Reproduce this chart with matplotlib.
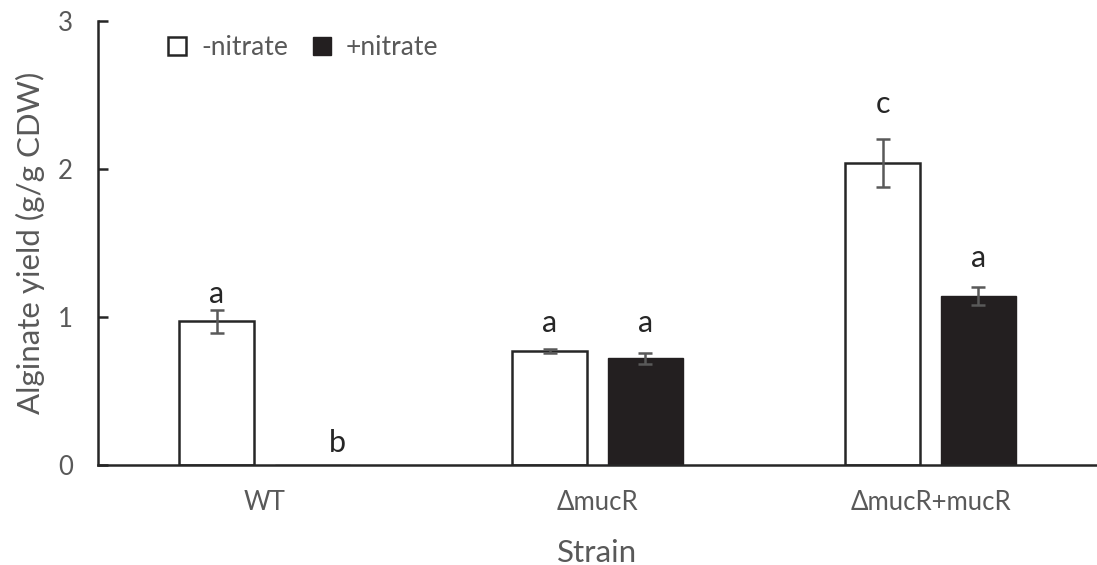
import matplotlib.pyplot as plt
import numpy as np
from matplotlib.patches import Patch

# Alginate yield per strain, with and without nitrate
strains = ["WT", "\u0394mucR", "\u0394mucR+mucR"]
yield_minus = [0.97, 0.772, 2.043]
err_minus = [0.075, 0.012, 0.162]
yield_plus = [0.0, 0.72, 1.142]
err_plus = [0.0, 0.04, 0.06]

# significance letters and their baseline heights
letters_minus = ["a", "a", "c"]
letter_y_minus = [1.095, 0.899, 2.378]
letters_plus = ["b", "a", "a"]
letter_y_plus = [0.088, 0.899, 1.338]

plt.rcParams['font.family'] = ['Lato', 'DejaVu Sans']
text_grey = "#595959"
dark = "#262626"

fig = plt.figure(figsize=(10.97, 5.65), dpi=100)
ax = fig.add_axes([98 / 1097, 100 / 565, 999 / 1097, 444 / 565])

x = np.arange(len(strains))
width = 0.225
offset = 0.143

ax.bar(x - offset, yield_minus, width, color="white", edgecolor=dark, linewidth=1.8, zorder=2)
ax.bar(x + offset, yield_plus, width, color="#231f20", edgecolor="#231f20", linewidth=1.0, zorder=2)

ax.errorbar(x - offset, yield_minus, yerr=err_minus, fmt="none", ecolor=text_grey,
            elinewidth=1.8, capsize=5, capthick=1.8, zorder=3)
plus_idx = [i for i in range(len(strains)) if yield_plus[i] > 0]
ax.errorbar(x[plus_idx] + offset, [yield_plus[i] for i in plus_idx],
            yerr=[err_plus[i] for i in plus_idx], fmt="none", ecolor=text_grey,
            elinewidth=1.8, capsize=5, capthick=1.8, zorder=3)

for i in range(len(strains)):
    ax.text(x[i] - offset, letter_y_minus[i], letters_minus[i], ha="center", va="baseline",
            fontsize=22, color=dark)
    # the "b" sits a little right of the empty WT slot
    nudge = 0.075 if yield_plus[i] == 0 else 0.0
    ax.text(x[i] + offset + nudge, letter_y_plus[i], letters_plus[i], ha="center", va="baseline",
            fontsize=22, color=dark)

ax.set_xlim(-0.5, 2.5)
ax.set_ylim(0, 3)
ax.set_yticks([0, 1, 2, 3])
ax.set_xticks(x)
ax.set_xticklabels(strains)

for side in ["top", "right"]:
    ax.spines[side].set_visible(False)
for side in ["left", "bottom"]:
    ax.spines[side].set_color(dark)
    ax.spines[side].set_linewidth(1.8)

ax.tick_params(axis="y", direction="in", length=7, width=1.8, color=dark,
               labelcolor=text_grey, labelsize=18.5, pad=18)
ax.tick_params(axis="x", length=0, labelcolor=text_grey, labelsize=18.5, pad=18)

ax.set_xlabel("Strain", fontsize=22.5, color=text_grey, labelpad=17)
ax.set_ylabel("Alginate yield (g/g CDW)", fontsize=22.5, color=text_grey, labelpad=9)

handles = [Patch(facecolor="white", edgecolor=dark, linewidth=1.8, label="-nitrate"),
           Patch(facecolor="#231f20", edgecolor="#231f20", label="+nitrate")]
leg = ax.legend(handles=handles, loc="center left", bbox_to_anchor=(0.07, 0.94), ncol=2,
                frameon=False, fontsize=19, handlelength=0.7, handleheight=0.7,
                handletextpad=0.55, columnspacing=0.95, borderaxespad=0, borderpad=0)
for t in leg.get_texts():
    t.set_color(text_grey)

fig.savefig("out.png", dpi=100)
